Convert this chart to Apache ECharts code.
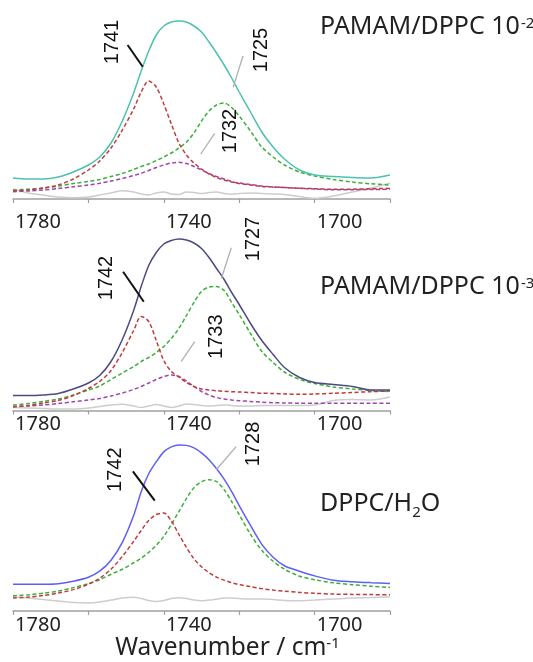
<!DOCTYPE html>
<html>
<head>
<meta charset="utf-8">
<script src="https://cdn.jsdelivr.net/npm/echarts@6/dist/echarts.min.js"></script>
<style>
  html, body { margin: 0; padding: 0; background: #fff; }
  #chart { width: 533px; height: 662px; }
</style>
</head>
<body>
<div id="chart"></div>
<script>
// wavenumber grid (cm-1), shared by every curve
const wavenumbers = [1780, 1776, 1772, 1768, 1764, 1760, 1757, 1754, 1751, 1748, 1746, 1744, 1742, 1740, 1738, 1736, 1734,
  1732, 1730, 1728, 1726, 1724, 1722, 1720, 1717, 1714, 1711, 1708, 1704, 1700, 1695, 1690, 1685, 1680]
const tickLabels = [1780, 1740, 1700]

// PAMAM/DPPC 10-2 (absorbance, arbitrary units)
const total1 = [21, 20, 20, 22, 27, 34, 42, 56, 78, 106, 128, 148, 164, 173, 177, 178, 177, 173, 167, 157, 146, 134, 121, 107, 87, 67, 52, 40, 29, 24, 22.5, 21.5, 21, 24]
const band1741 = [8, 9, 11, 14, 20, 29, 38, 51, 69, 90, 107, 118, 112, 95, 75, 56, 44, 36, 30, 25, 21.5, 19, 17, 15.5, 14, 12.5, 12, 11.5, 10.7, 10.3, 9.7, 9.8, 10.2, 10.7]
const band1725 = [9, 9.8, 11, 12.8, 15.5, 17.5, 19.5, 22.5, 25.5, 29.5, 32.5, 35, 38.5, 42, 46, 51, 57, 66, 78, 88, 94, 96, 91.5, 83, 68, 52, 42, 34, 27, 23, 19.5, 17, 15.2, 14]
const band1732 = [7.3, 8, 9, 10.5, 12.2, 14, 15.7, 18, 20.5, 23.5, 25.7, 28.5, 31.5, 34, 36, 36.7, 35.5, 32.5, 29, 25.5, 22.5, 20, 17.5, 16, 14.5, 13, 12, 11.5, 10.7, 10, 9.2, 9.3, 9.5, 9.7]
const resid1 = [10, 6, 4, 2, 1.3, 2, 4, 6, 8.3, 7, 5, 4, 6, 7, 5, 4.5, 7, 6.5, 5.5, 6.5, 7, 5.5, 4.7, 5.5, 6, 5.5, 5, 4.5, 2.5, 0.7, 3, 7, 11, 16]

// PAMAM/DPPC 10-3
const total2 = [15, 15, 15.5, 17, 21.5, 27.5, 35, 49, 71, 100, 124, 145, 158, 166.5, 170, 171.5, 170.5, 167.5, 162, 153, 142, 131, 118, 106, 87, 70, 56, 43, 33, 28, 26, 24, 20.5, 20.5]
const band1742b = [3.8, 5, 7.5, 10, 15, 22, 29, 40, 58, 80, 94, 89, 70, 50, 39, 33.5, 28, 24, 21.5, 20.5, 19.8, 19.2, 18.8, 18.5, 18, 17.3, 17, 16.6, 16.2, 16.5, 17.2, 18, 18.8, 19.5]
const band1727 = [5.5, 7, 9, 11.5, 15.5, 20.5, 24.5, 31, 37.5, 44, 49, 53, 58, 64, 72, 82, 95, 108, 119, 123.5, 124, 120, 108, 96, 77, 59, 48, 38.5, 31, 27, 23.5, 21.5, 20, 18.8]
const band1733 = [3.8, 4.5, 5.5, 7, 8.7, 10.5, 12, 14.5, 17.5, 21, 24, 27.5, 31, 34, 35.5, 34, 29.5, 24, 19, 15.5, 13, 11.5, 10.5, 9.8, 9, 8.3, 7.8, 7.5, 7.3, 7.2, 7.2, 7.2, 7.2, 7.2]
const resid2 = [3, 2.5, 2, 1.5, 1.5, 2.5, 4, 5.5, 6.2, 4.5, 3, 4.5, 6, 4.5, 3, 4.5, 6.5, 6, 5, 4.5, 5, 5.5, 5, 4.5, 4.5, 5, 5, 5, 5, 5.5, 10, 11, 10.5, 13.5]

// DPPC/H2O
const total3 = [27, 27, 27, 27.5, 30, 34, 40, 51, 69, 96, 120, 138, 150, 160, 165, 167, 166.5, 164, 159, 152, 143, 132.5, 120, 106, 86, 67, 54, 45.5, 40, 35.3, 31, 29.5, 28.5, 27.7]
const band1742c = [13, 14, 15.5, 18, 21.5, 27, 33, 42, 55, 70, 81, 91, 97, 98.5, 90.5, 77, 64, 52.5, 44.5, 38.5, 34, 31, 28.5, 26.5, 24.5, 22.5, 21, 20, 18.7, 17.8, 17, 16.7, 16.5, 16.3]
const band1728 = [15.3, 16.3, 17.8, 20, 23.5, 27.5, 31.5, 37, 42, 48.5, 53, 59, 66, 75, 87, 100, 113, 124, 130, 132, 130, 122, 110, 97, 77, 61, 50, 42, 35, 31.5, 28.3, 26.5, 25, 23.7]
const resid3 = [14.3, 13, 11.5, 10, 8.5, 8, 9, 11, 13, 13.7, 12.5, 10.5, 9.5, 10.5, 12.5, 13.3, 12.5, 11, 10.3, 11, 12, 13, 13, 12.5, 12, 12, 11.5, 10.5, 10.3, 11, 12, 13, 13.5, 14.3]

// peak labels and their leader lines, in data coordinates
const BLACK = '#111'
const GREY = '#b0b0b0'
const notes1 = [
  {text: '1741', at: [1753.7, 157], from: [1749.6, 154], to: [1745.6, 132.3], color: BLACK},
  {text: '1725', at: [1714.0, 149], from: [1719.0, 143], to: [1721.6, 111.7], color: GREY},
  {text: '1732', at: [1722.3, 68], from: [1726.5, 65.7], to: [1730.2, 45], color: GREY},
]
const notes2 = [
  {text: '1742', at: [1755.1, 132.5], from: [1750.8, 138.8], to: [1745.3, 108.8], color: BLACK},
  {text: '1727', at: [1716.2, 171.5], from: [1722.1, 162.8], to: [1724.7, 132.2], color: GREY},
  {text: '1733', at: [1725.9, 73.8], from: [1731.8, 68.8], to: [1735.4, 48.8], color: GREY},
]
const notes3 = [
  {text: '1742', at: [1752.8, 142], from: [1748.2, 140.3], to: [1742.4, 111], color: BLACK},
  {text: '1728', at: [1716.1, 168], from: [1720.8, 165.3], to: [1726.1, 142], color: GREY},
]

const RED = '#c03b3b'
const GREEN = '#3cb03c'
const PURPLE = '#a045ad'
const RESID = '#cdcdcd'

const chart = echarts.init(document.getElementById('chart'))

function curve(name, gridIndex, values, color, dashed, width) {
  return {
    name: name,
    type: 'line',
    xAxisIndex: gridIndex,
    yAxisIndex: gridIndex,
    data: wavenumbers.map((w, i) => [w, values[i]]),
    smooth: 0.3,
    showSymbol: false,
    symbol: 'none',
    lineStyle: {color: color, width: width, type: dashed ? [4, 2.5] : 'solid'},
    itemStyle: {color: color},
    silent: true,
  }
}

function withNotes(series, notes) {
  series.markPoint = {
    symbol: 'circle',
    symbolSize: 0,
    silent: true,
    label: {
      show: true,
      position: 'inside',
      rotate: 90,
      fontFamily: 'Liberation Sans',
      fontSize: 20,
      color: '#111',
      formatter: (p) => p.name,
    },
    data: notes.map((n) => ({name: n.text, coord: n.at})),
  }
  series.markLine = {
    symbol: ['none', 'none'],
    silent: true,
    label: {show: false},
    data: notes.map((n) => [
      {coord: n.from, lineStyle: {color: n.color, width: n.color === BLACK ? 2 : 1.3, type: 'solid'}},
      {coord: n.to},
    ]),
  }
  return series
}

function xAxisFor(gridIndex, margin) {
  return {
    type: 'value',
    gridIndex: gridIndex,
    inverse: true,
    min: 1680,
    max: 1780,
    interval: 20,
    axisLine: {show: true, onZero: false, lineStyle: {color: '#a0a0a0', width: 1.5}},
    axisTick: {show: true, length: 4, lineStyle: {color: '#a0a0a0', width: 1.2}},
    splitLine: {show: false},
    axisLabel: {
      margin: margin,
      color: '#222',
      fontFamily: 'Noto Sans',
      fontSize: 20,
      padding: [0, 0, 0, 50], // labels sit right of their ticks in the original
      formatter: (v) => (tickLabels.includes(v) ? String(v) : ''),
    },
  }
}

function yAxisFor(gridIndex) {
  return {type: 'value', gridIndex: gridIndex, min: 0, max: 190, show: false}
}

const richTitle = {
  m: {fontSize: 25, fontFamily: 'Noto Sans', fontWeight: 'normal', color: '#222'},
  sup: {fontSize: 15, fontFamily: 'Noto Sans', fontWeight: 'normal', color: '#222', verticalAlign: 'top', padding: [2, 0, 0, 1]},
  sub: {fontSize: 15, fontFamily: 'Noto Sans', fontWeight: 'normal', color: '#222', verticalAlign: 'bottom', padding: [0, 0, -4, 0]},
}

const axis3 = xAxisFor(2, 4)
axis3.name = '{m|Wavenumber / cm}{sup|-1}'
axis3.nameLocation = 'middle'
axis3.nameGap = 25
axis3.nameTextStyle = {
  padding: [0, 0, 0, 52],
  rich: {
    m: {fontSize: 24.5, fontFamily: 'Noto Sans', color: '#222'},
    sup: {fontSize: 15, fontFamily: 'Noto Sans', color: '#222', verticalAlign: 'top'},
  },
}

const option = {
  animation: false,
  backgroundColor: '#fff',
  title: [
    {left: 315, top: 9, text: '{m|PAMAM/DPPC 10}{sup|-2}', textStyle: {fontWeight: 'normal', rich: richTitle}},
    {left: 315, top: 269, text: '{m|PAMAM/DPPC 10}{sup|-3}', textStyle: {fontWeight: 'normal', rich: richTitle}},
    {left: 315, top: 486, text: '{m|DPPC/H}{sub|2}{m|O}', textStyle: {fontWeight: 'normal', rich: richTitle}},
  ],
  grid: [
    {left: 13, width: 377, top: 9, height: 190},
    {left: 13, width: 377, top: 220.5, height: 190},
    {left: 13, width: 377, top: 422, height: 190},
  ],
  xAxis: [xAxisFor(0, 13), xAxisFor(1, 4), axis3],
  yAxis: [yAxisFor(0), yAxisFor(1), yAxisFor(2)],
  series: [
    curve('residual 10-2', 0, resid1, RESID, false, 1.5),
    curve('1732', 0, band1732, PURPLE, true, 1.5),
    curve('1725', 0, band1725, GREEN, true, 1.5),
    curve('1741', 0, band1741, RED, true, 1.5),
    withNotes(curve('PAMAM/DPPC 10-2', 0, total1, '#4cc2ad', false, 1.5), notes1),

    curve('residual 10-3', 1, resid2, RESID, false, 1.5),
    curve('1733', 1, band1733, PURPLE, true, 1.5),
    curve('1727', 1, band1727, GREEN, true, 1.5),
    curve('1742', 1, band1742b, RED, true, 1.5),
    withNotes(curve('PAMAM/DPPC 10-3', 1, total2, '#4b4b80', false, 1.5), notes2),

    curve('residual H2O', 2, resid3, RESID, false, 1.5),
    curve('1728', 2, band1728, GREEN, true, 1.5),
    curve('1742', 2, band1742c, RED, true, 1.5),
    withNotes(curve('DPPC/H2O', 2, total3, '#5f5ff5', false, 1.5), notes3),
  ],
}

option && chart.setOption(option)
</script>
</body>
</html>
